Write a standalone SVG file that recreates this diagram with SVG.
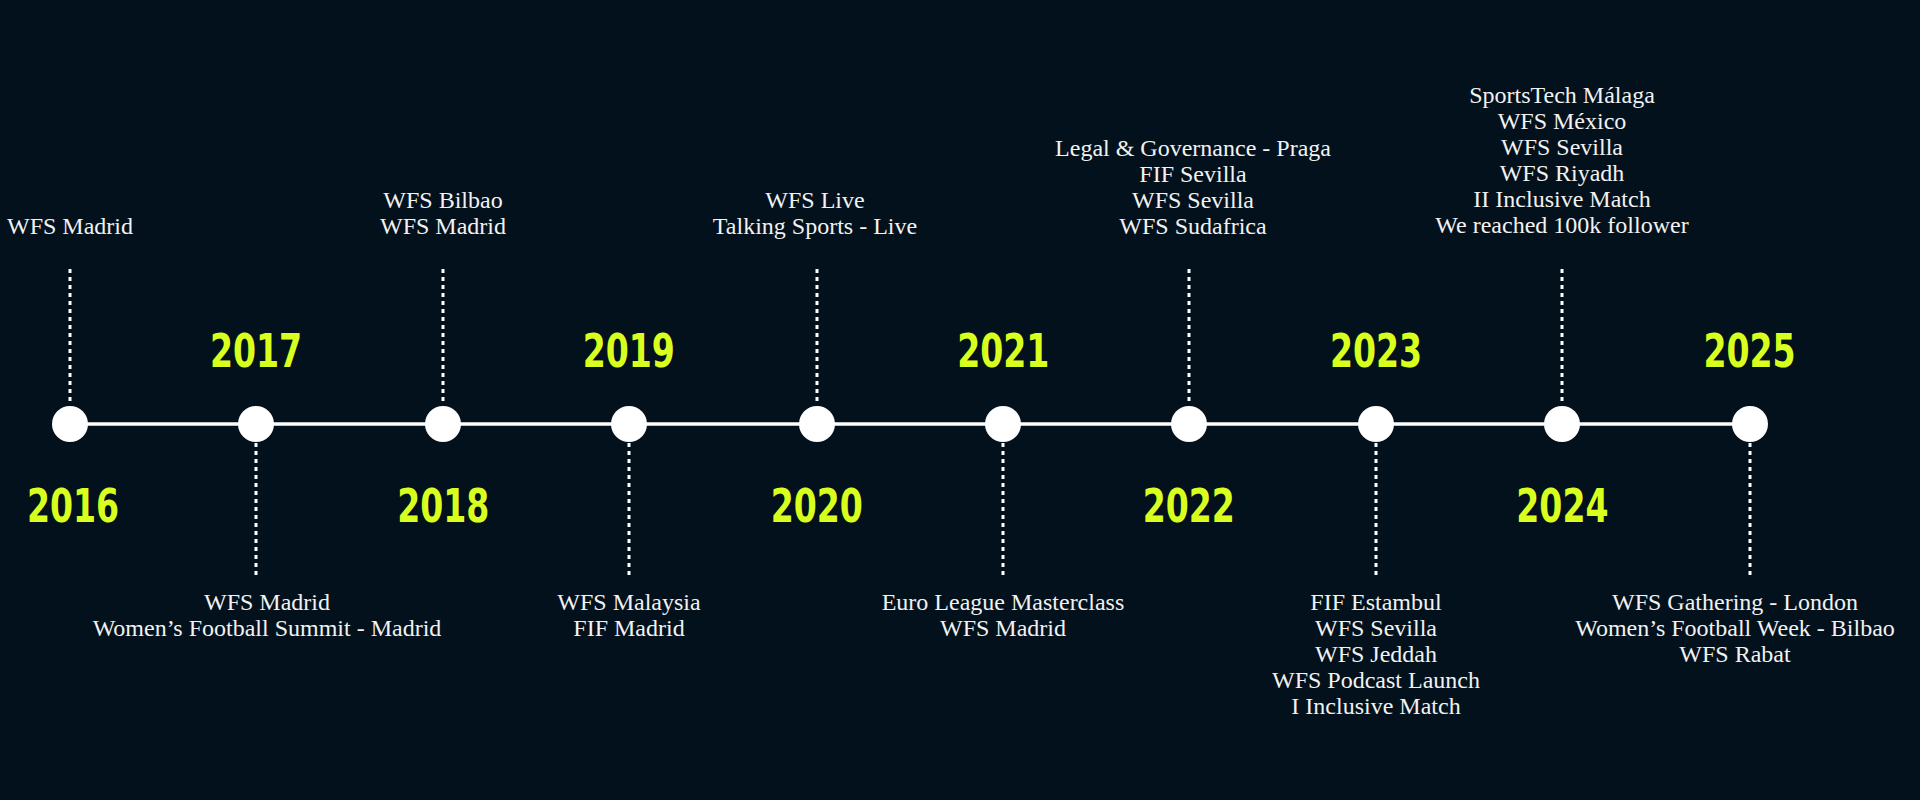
<svg xmlns="http://www.w3.org/2000/svg" width="1920" height="800" viewBox="0 0 1920 800">
<style>
.t{font-family:"Liberation Serif","DejaVu Serif",serif;font-size:24px;fill:#f2f2f2;text-anchor:middle}
.y{font-family:"DejaVu Sans Condensed","Liberation Sans",sans-serif;font-weight:bold;font-size:46px;fill:#d8ff1e;text-anchor:middle}
.d{stroke:#fff;stroke-width:3;stroke-dasharray:4 4}
.n{fill:#fff}
</style>
<rect width="1920" height="800" fill="#03111c"/>
<g id="connectors">
<line x1="70" y1="424" x2="1750" y2="424" stroke="#fff" stroke-width="3.5"/>
<line class="d" x1="70" y1="269" x2="70" y2="404"/>
<line class="d" x1="443" y1="269" x2="443" y2="404"/>
<line class="d" x1="817" y1="269" x2="817" y2="404"/>
<line class="d" x1="1189" y1="269" x2="1189" y2="404"/>
<line class="d" x1="1562" y1="269" x2="1562" y2="404"/>
<line class="d" x1="256" y1="443" x2="256" y2="576"/>
<line class="d" x1="629" y1="443" x2="629" y2="576"/>
<line class="d" x1="1003" y1="443" x2="1003" y2="576"/>
<line class="d" x1="1376" y1="443" x2="1376" y2="576"/>
<line class="d" x1="1750" y1="443" x2="1750" y2="576"/>
</g>
<g id="n2016"><circle class="n" cx="70" cy="424" r="18"/><text class="y" x="73" y="522" transform="matrix(0.8 0 0 1 14.6 0)">2016</text><text class="t" x="70" y="234">WFS Madrid</text></g>
<g id="n2017"><circle class="n" cx="256" cy="424" r="18"/><text class="y" x="320" y="367" transform="matrix(0.8 0 0 1 0 0)">2017</text><text class="t" x="267" y="610">WFS Madrid</text><text class="t" x="267" y="636">Women’s Football Summit - Madrid</text></g>
<g id="n2018"><circle class="n" cx="443" cy="424" r="18"/><text class="y" x="554" y="522" transform="matrix(0.8 0 0 1 0 0)">2018</text><text class="t" x="443" y="208">WFS Bilbao</text><text class="t" x="443" y="234">WFS Madrid</text></g>
<g id="n2019"><circle class="n" cx="629" cy="424" r="18"/><text class="y" x="786" y="367" transform="matrix(0.8 0 0 1 0 0)">2019</text><text class="t" x="629" y="610">WFS Malaysia</text><text class="t" x="629" y="636">FIF Madrid</text></g>
<g id="n2020"><circle class="n" cx="817" cy="424" r="18"/><text class="y" x="1021" y="522" transform="matrix(0.8 0 0 1 0 0)">2020</text><text class="t" x="815" y="208">WFS Live</text><text class="t" x="815" y="234">Talking Sports - Live</text></g>
<g id="n2021"><circle class="n" cx="1003" cy="424" r="18"/><text class="y" x="1254" y="367" transform="matrix(0.8 0 0 1 0 0)">2021</text><text class="t" x="1003" y="610">Euro League Masterclass</text><text class="t" x="1003" y="636">WFS Madrid</text></g>
<g id="n2022"><circle class="n" cx="1189" cy="424" r="18"/><text class="y" x="1486" y="522" transform="matrix(0.8 0 0 1 0 0)">2022</text><text class="t" x="1193" y="156">Legal &amp; Governance - Praga</text><text class="t" x="1193" y="182">FIF Sevilla</text><text class="t" x="1193" y="208">WFS Sevilla</text><text class="t" x="1193" y="234">WFS Sudafrica</text></g>
<g id="n2023"><circle class="n" cx="1376" cy="424" r="18"/><text class="y" x="1720" y="367" transform="matrix(0.8 0 0 1 0 0)">2023</text><text class="t" x="1376" y="610">FIF Estambul</text><text class="t" x="1376" y="636">WFS Sevilla</text><text class="t" x="1376" y="662">WFS Jeddah</text><text class="t" x="1376" y="688">WFS Podcast Launch</text><text class="t" x="1376" y="714">I Inclusive Match</text></g>
<g id="n2024"><circle class="n" cx="1562" cy="424" r="18"/><text class="y" x="1953" y="522" transform="matrix(0.8 0 0 1 0 0)">2024</text><text class="t" x="1562" y="103">SportsTech Málaga</text><text class="t" x="1562" y="129">WFS México</text><text class="t" x="1562" y="155">WFS Sevilla</text><text class="t" x="1562" y="181">WFS Riyadh</text><text class="t" x="1562" y="207">II Inclusive Match</text><text class="t" x="1562" y="233">We reached 100k follower</text></g>
<g id="n2025"><circle class="n" cx="1750" cy="424" r="18"/><text class="y" x="2187" y="367" transform="matrix(0.8 0 0 1 0 0)">2025</text><text class="t" x="1735" y="610">WFS Gathering - London</text><text class="t" x="1735" y="636">Women’s Football Week - Bilbao</text><text class="t" x="1735" y="662">WFS Rabat</text></g>
</svg>
